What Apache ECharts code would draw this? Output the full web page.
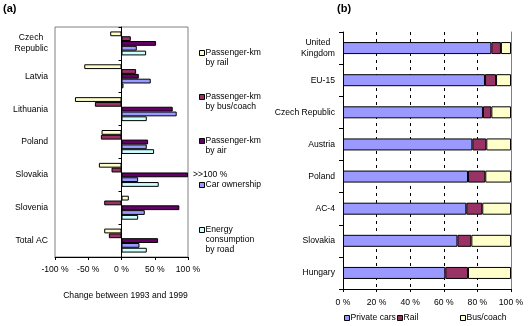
<!DOCTYPE html>
<html>
<head>
<meta charset="utf-8">
<script src="https://cdn.jsdelivr.net/npm/echarts@6/dist/echarts.min.js"></script>
<style>
html,body{margin:0;padding:0;background:#fff;}
#c{width:531px;height:326px;}
</style>
</head>
<body>
<div id="c"></div>
<script>
// ---- Data: chart (a) ----
const catsA = ['Czech Republic', 'Latvia', 'Lithuania', 'Poland', 'Slovakia', 'Slovenia', 'Total AC'];
const railA = [-17, -56, -70, -30, -34, 11, -26];
const busA = [14, 22, -40, -31, -15, -26, -19];
const airA = [52, 26, 77, 40, 100, 87, 55];   // Slovakia is >>100 %, shown clipped at 100
const carA = [23, 44, 83, 38, 25, 35, 27];
const energyA = [37, 3, 38, 49, 56, 25, 38];
const ticksA = [-100, -50, 0, 50, 100];
const namesA = ['Passenger-km by rail', 'Passenger-km by bus/coach', 'Passenger-km by air', 'Car ownership', 'Energy consumption by road'];

// ---- Data: chart (b) ----
const catsB = ['United Kingdom', 'EU-15', 'Czech Republic', 'Austria', 'Poland', 'AC-4', 'Slovakia', 'Hungary'];
const carsB = [88.3, 84.5, 83.3, 77.0, 74.4, 73.4, 68.1, 60.9];
const railB = [5.7, 6.6, 5.0, 8.3, 10.3, 9.5, 8.3, 13.5];
const busB = [6.0, 8.9, 11.7, 14.7, 15.3, 17.1, 23.6, 25.6];
const ticksB = [0, 20, 40, 60, 80, 100];
const namesB = ['Private cars', 'Rail', 'Bus/coach'];

const FONT = 'Liberation Sans, Arial, sans-serif';
const FS = 8.6;
const colorsA = ['#FFFFCC', '#993366', '#660066', '#9999FF', '#CCFFFF'];
const colorsB = ['#9999FF', '#993366', '#FFFFCC'];
const legendTextA = {
  'Passenger-km by rail': ['Passenger-km', 'by rail'],
  'Passenger-km by bus/coach': ['Passenger-km', 'by bus/coach'],
  'Passenger-km by air': ['Passenger-km', 'by air'],
  'Car ownership': ['Car ownership'],
  'Energy consumption by road': ['Energy', 'consumption', 'by road']
};
const catLabelA = {'Czech Republic': 'Czech  \nRepublic'};
const catLabelB = {'United Kingdom': 'United  \nKingdom'};

const chart = echarts.init(document.getElementById('c'), null, {renderer: 'canvas'});

const seriesA = [railA, busA, airA, carA, energyA].map((d, i) => ({
  type: 'bar', name: namesA[i], xAxisIndex: 0, yAxisIndex: 0,
  data: d.map((v, j) => (i === 2 && catsA[j] === 'Slovakia') ?
    {value: v, label: {show: true, position: 'right', distance: 5, formatter: '>>100 %', fontSize: FS, color: '#000', fontFamily: FONT}} : v),
  barGap: '0%', barCategoryGap: '27%',
  itemStyle: {color: colorsA[i], borderColor: '#000', borderWidth: 1},
  animation: false
}));

const seriesB = [carsB, railB, busB].map((d, i) => ({
  type: 'bar', name: namesB[i], xAxisIndex: 1, yAxisIndex: 2, stack: 'b',
  data: d, barWidth: 12,
  itemStyle: {color: colorsB[i], borderColor: '#000', borderWidth: 1},
  animation: false
}));

const richT = {t: {fontSize: FS, fontFamily: FONT, color: '#000', lineHeight: 10, padding: [0, 0, 0, -4]}};

// legend for (a): one component per item; leading blank lines keep the icon on the first text line
const iconYA = [53, 97, 141, 185, 230];
const legendsA = namesA.map((n, i) => {
  const lines = legendTextA[n].length;
  return {
    data: [n], left: 199, top: iconYA[i] - (2 * lines - 1) * 5, padding: 0,
    itemWidth: 5, itemHeight: 5, icon: 'rect', selectedMode: false,
    itemStyle: {borderColor: '#000', borderWidth: 1},
    formatter: (name) => {
      const ls = legendTextA[name];
      return '\n'.repeat(ls.length - 1) + ls.map(s => '{t|' + s + '}').join('\n');
    },
    textStyle: {fontSize: FS, fontFamily: FONT, color: '#000', lineHeight: 10, rich: richT}
  };
});
const legLeftB = [344, 397, 460];
const legendsB = namesB.map((n, i) => ({
  data: [n], left: legLeftB[i], top: 313, padding: 0,
  itemWidth: 5, itemHeight: 5, icon: 'rect', selectedMode: false,
  itemStyle: {borderColor: '#000', borderWidth: 1},
  formatter: (name) => '{t|' + name + '}',
  textStyle: {fontSize: FS, fontFamily: FONT, color: '#000', lineHeight: 10, rich: richT}
}));

chart.setOption({
  animation: false,
  textStyle: {fontFamily: FONT},
  title: [
    {text: '(a)', left: 3, top: 3, padding: 0, textStyle: {fontSize: 11, fontWeight: 'bold', color: '#000', fontFamily: FONT}},
    {text: '(b)', left: 337, top: 3, padding: 0, textStyle: {fontSize: 11, fontWeight: 'bold', color: '#000', fontFamily: FONT}}
  ],
  legend: legendsA.concat(legendsB),
  grid: [
    {left: 55, top: 27, width: 133, height: 230, show: true, borderColor: '#808080', borderWidth: 1, backgroundColor: 'transparent'},
    {left: 343, top: 32, width: 168, height: 257}
  ],
  xAxis: [
    {
      type: 'value', gridIndex: 0, min: ticksA[0], max: ticksA[ticksA.length - 1], interval: ticksA[1] - ticksA[0],
      axisLine: {show: true, lineStyle: {color: '#000', width: 1}},
      axisTick: {show: true, length: 3, lineStyle: {color: '#000'}},
      axisLabel: {formatter: '{value} %', fontSize: FS, color: '#000', margin: 8, fontFamily: FONT},
      splitLine: {show: false},
      name: 'Change between 1993 and 1999', nameLocation: 'middle', nameGap: 34,
      nameTextStyle: {fontSize: FS, color: '#000', fontFamily: FONT, padding: [0, 0, 0, 8]}
    },
    {
      type: 'value', gridIndex: 1, min: ticksB[0], max: ticksB[ticksB.length - 1], interval: ticksB[1] - ticksB[0],
      axisLine: {show: true, lineStyle: {color: '#000', width: 1}},
      axisTick: {show: true, length: 3, lineStyle: {color: '#000'}},
      axisLabel: {formatter: '{value} %', fontSize: FS, color: '#000', margin: 9, fontFamily: FONT},
      splitLine: {show: true, showMinLine: false, showMaxLine: false, lineStyle: {color: '#000', type: [3, 4], width: 1}}
    }
  ],
  yAxis: [
    {
      type: 'category', gridIndex: 0, data: catsA, inverse: true,
      axisLine: {show: true, onZero: true, lineStyle: {color: '#000', width: 1}},
      axisTick: {show: true, length: 3, lineStyle: {color: '#000'}},
      axisLabel: {show: false}
    },
    {
      type: 'category', gridIndex: 0, data: catsA, inverse: true, position: 'left',
      axisLine: {show: false, onZero: false},
      axisTick: {show: false},
      axisLabel: {show: true, fontSize: FS, color: '#000', margin: 7, lineHeight: 11, fontFamily: FONT,
        formatter: (v) => catLabelA[v] || v}
    },
    {
      type: 'category', gridIndex: 1, data: catsB, inverse: true, position: 'left',
      axisLine: {show: true, onZero: false, lineStyle: {color: '#000', width: 1}},
      axisTick: {show: true, length: 4, lineStyle: {color: '#000'}},
      axisLabel: {show: true, fontSize: FS, color: '#000', margin: 8, lineHeight: 11, fontFamily: FONT,
        formatter: (v) => catLabelB[v] || v}
    },
    {
      type: 'category', gridIndex: 1, data: catsB, inverse: true, position: 'right',
      axisLine: {show: true, onZero: false, lineStyle: {color: '#808080', width: 1}},
      axisTick: {show: false}, axisLabel: {show: false}
    }
  ],
  series: seriesA.concat(seriesB)
});
</script>
</body>
</html>
